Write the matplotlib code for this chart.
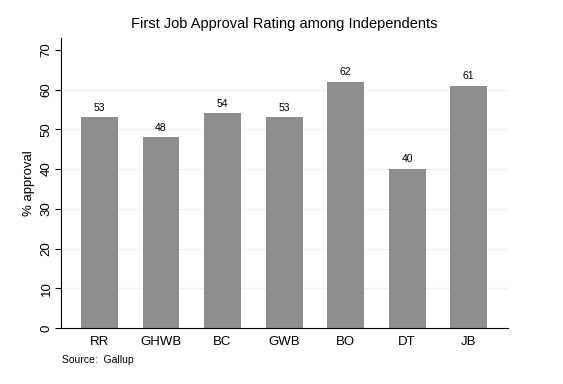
import matplotlib
matplotlib.use('Agg')
import matplotlib.pyplot as plt
import numpy as np

plt.rcParams['font.family'] = ['Liberation Sans', 'DejaVu Sans']

presidents = ['RR', 'GHWB', 'BC', 'GWB', 'BO', 'DT', 'JB']
approval = [53, 48, 54, 53, 62, 40, 61]
yticks = [0, 10, 20, 30, 40, 50, 60, 70]

fig = plt.figure(figsize=(5.63, 3.84), dpi=100)
ax = fig.add_axes([61 / 563, 56 / 384, 447 / 563, 290 / 384])

x = np.arange(len(presidents))
for y in yticks[1:-1]:
    ax.axhline(y, color='#eaf2f3', lw=0.8, zorder=0)
bars = ax.bar(x, approval, width=0.6, color='#8e8e8e', zorder=2)
for xi, v in zip(x, approval):
    ax.text(xi, v + 1.2, str(v), ha='center', va='bottom', fontsize=7.5)

ax.set_xlim(-0.626, 6.64)
ax.set_ylim(0, 73)
ax.set_xticks(x)
ax.set_xticklabels(presidents, fontsize=9.5)
ax.tick_params(axis='x', length=0, pad=6)
ax.set_yticks(yticks)
ax.set_yticklabels([str(t) for t in yticks], rotation=90, va='center', fontsize=9.5)
ax.tick_params(axis='y', length=4, width=0.8, pad=2)
ax.spines['top'].set_visible(False)
ax.spines['right'].set_visible(False)
ax.spines['left'].set_linewidth(0.8)
ax.spines['bottom'].set_linewidth(0.8)

ax.set_ylabel('% approval', fontsize=9.5, labelpad=4)
fig.text(284 / 563, 1 - 24 / 384, 'First Job Approval Rating among Independents',
         ha='center', va='center', fontsize=10.5)
fig.text(62 / 563, 1 - 360 / 384, 'Source:  Gallup', ha='left', va='center', fontsize=7.5)

fig.savefig('out.png', dpi=100)
